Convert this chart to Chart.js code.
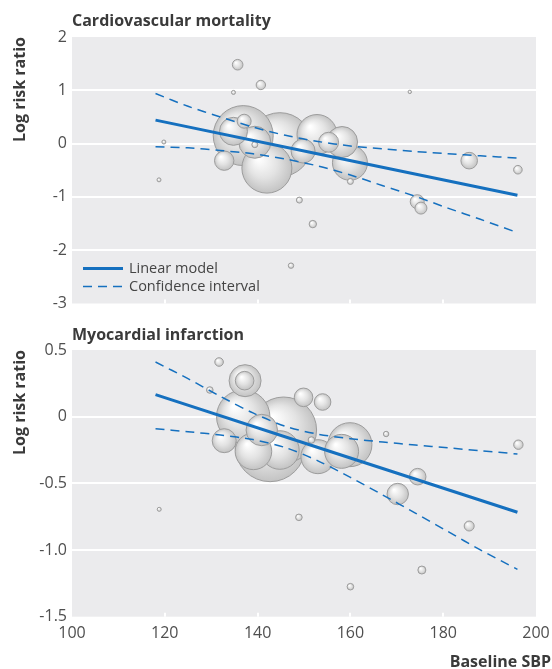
<!DOCTYPE html>
<html><head><meta charset="utf-8">
<script src="https://cdn.jsdelivr.net/npm/chart.js@4.4.1/dist/chart.umd.min.js"></script>
<style>
html,body{margin:0;padding:0;background:#fff;}
#wrap{position:relative;width:552px;height:669px;overflow:hidden;}
canvas{position:absolute;left:0;}
#c1{top:0;} #c2{top:310px;}
</style></head><body>
<div id="wrap"><canvas id="c1" width="552" height="310"></canvas><canvas id="c2" width="552" height="359"></canvas></div>
<script>
// ---- tick labels ----
const xTickLabels = ['100','120','140','160','180','200'];
const cvYTickLabels = ['2','1','0','-1','-2','-3'];
const miYTickLabels = ['0.5','0','-0.5','-1.0','-1.5'];

// ---- Cardiovascular mortality: studies ----
const cvSBP    = [136.9, 144.8, 142.0, 152.8, 159.9, 139.4, 158.2, 134.8, 149.8, 155.3, 132.8, 185.6, 137.1, 174.4, 175.2, 135.7, 140.7, 196.1, 151.9, 149.0, 160.0, 139.4, 147.2, 134.8, 119.8, 118.75, 172.8];
const cvLogRR  = [0.15, -0.02, -0.46, 0.17, -0.36, 0.025, 0.03, 0.23, -0.14, 0.025, -0.32, -0.32, 0.42, -1.09, -1.21, 1.48, 1.10, -0.49, -1.51, -1.06, -0.71, -0.02, -2.29, 0.96, 0.03, -0.68, 0.97];
const cvWeight = [30, 32, 25, 20, 17.5, 16, 15.5, 14, 12, 10, 9.7, 8.3, 7, 7, 6, 5.3, 4.7, 4.3, 3.7, 3, 3, 3, 2.7, 2, 2, 2, 1.7];

// ---- Myocardial infarction: studies ----
const miSBP    = [142.7, 145.6, 136.9, 159.9, 144.8, 139.1, 153.0, 158.1, 137.3, 140.9, 132.8, 170.2, 137.2, 149.9, 154.0, 174.5, 185.6, 196.2, 131.7, 175.4, 129.7, 151.6, 148.9, 160.0, 167.7, 118.8];
const miLogRR  = [-0.225, -0.10, 0.0, -0.21, -0.25, -0.26, -0.30, -0.26, 0.27, -0.10, -0.18, -0.58, 0.27, 0.145, 0.11, -0.45, -0.82, -0.21, 0.41, -1.15, 0.20, -0.175, -0.755, -1.275, -0.13, -0.695];
const miWeight = [35, 33, 26.7, 22, 19.3, 18.3, 17, 17, 16, 15.7, 12, 10.7, 9.3, 9.3, 8.3, 8.3, 5, 4.7, 4.3, 4, 3.3, 3.3, 3.3, 3.3, 2.7, 2];

// ---- Linear model and confidence interval ----
const fitSBP = [118, 196];
const cvFit  = [0.44, -0.97];
const miFit  = [0.165, -0.717];
const ciSBP   = [118, 125, 132, 139, 146, 153, 160, 167, 174, 181, 188, 196];
const cvUpper = [0.94, 0.70, 0.50, 0.31, 0.155, 0.04, -0.045, -0.10, -0.15, -0.19, -0.23, -0.27];
const cvLower = [-0.06, -0.08, -0.13, -0.19, -0.29, -0.42, -0.59, -0.79, -0.99, -1.21, -1.42, -1.67];
const miUpper = [0.41, 0.285, 0.152, 0.028, -0.072, -0.131, -0.165, -0.19, -0.213, -0.234, -0.255, -0.28];
const miLower = [-0.09, -0.113, -0.138, -0.172, -0.232, -0.331, -0.455, -0.588, -0.723, -0.861, -0.999, -1.145];

const BLUE = '#1570bf';
const FONT = '"Open Sans"';
const TEXT = '#3a3a3a';
const TICK = '#4f4f4f';

function labelFor(list, v) {
  const f = list.find(l => Math.abs(Number(l) - v) < 1e-9);
  return f === undefined ? '' : f;
}

function bubbleFill(ctx) {
  const chart = ctx.chart, raw = ctx.raw;
  if (!raw || !chart.scales || !chart.scales.x || !chart.scales.y) return '#dcdcdc';
  const x = chart.scales.x.getPixelForValue(raw.x);
  const y = chart.scales.y.getPixelForValue(raw.y);
  const r = raw.r;
  if (![x, y, r].every(Number.isFinite) || r <= 0) return '#dcdcdc';
  const g = chart.ctx.createRadialGradient(x - r * 0.35, y - r * 0.4, r * 0.05, x, y, r);
  g.addColorStop(0, '#ffffff');
  g.addColorStop(0.55, '#e3e3e3');
  g.addColorStop(1, '#c3c3c3');
  return g;
}

function noPad(s) {
  s.paddingTop = 0; s.paddingBottom = 0; s.paddingLeft = 0; s.paddingRight = 0;
}

function panelPlugin(cfg) {
  return {
    id: 'panel_' + cfg.id,
    beforeDraw(chart) {
      const c = chart.ctx, a = chart.chartArea;
      c.save();
      c.fillStyle = '#ebebed';
      c.fillRect(a.left, a.top, a.right - a.left, a.bottom - a.top);
      c.restore();
    },
    beforeDatasetsDraw(chart) {
      const c = chart.ctx, a = chart.chartArea, xs = chart.scales.x;
      c.save();
      c.strokeStyle = '#ffffff';
      c.lineWidth = 2;
      xTickLabels.slice(1, -1).forEach(l => {
        const px = Math.round(xs.getPixelForValue(Number(l)));
        c.beginPath(); c.moveTo(px, a.bottom - 4); c.lineTo(px, a.bottom); c.stroke();
      });
      c.restore();
    },
    afterDraw(chart) {
      const c = chart.ctx, a = chart.chartArea;
      c.save();
      c.fillStyle = TEXT;
      c.font = 'bold 16px ' + FONT;
      c.textAlign = 'left';
      c.textBaseline = 'alphabetic';
      c.fillText(cfg.title, a.left, cfg.titleBaseline);
      if (cfg.legend) {
        const lx = a.left + 11, ly1 = a.bottom - 35, ly2 = a.bottom - 17;
        c.strokeStyle = BLUE;
        c.lineWidth = 3;
        c.beginPath(); c.moveTo(lx, ly1); c.lineTo(lx + 40, ly1); c.stroke();
        c.lineWidth = 1.5;
        c.setLineDash([9, 6]);
        c.beginPath(); c.moveTo(lx, ly2); c.lineTo(lx + 42, ly2); c.stroke();
        c.setLineDash([]);
        c.fillStyle = '#444';
        c.font = '14.5px ' + FONT;
        c.textBaseline = 'middle';
        c.fillText('Linear model', lx + 46, ly1);
        c.fillText('Confidence interval', lx + 46, ly2);
      }
      if (cfg.xTitle) {
        c.fillStyle = TEXT;
        c.font = 'bold 16px ' + FONT;
        c.textAlign = 'right';
        c.textBaseline = 'alphabetic';
        c.fillText(cfg.xTitle, 551, cfg.xTitleBaseline);
      }
      c.restore();
    }
  };
}

function makePanel(cfg) {
  const bubbles = cfg.sbp.map((x, i) => ({x: x, y: cfg.logRR[i], r: cfg.weight[i]}))
    .sort((p, q) => q.r - p.r);
  const lineDs = (xs, ys, dashed) => ({
    type: 'line',
    data: xs.map((x, i) => ({x: x, y: ys[i]})),
    borderColor: BLUE,
    borderWidth: dashed ? 1.5 : 3,
    borderDash: dashed ? [9, 6] : [],
    pointRadius: 0,
    tension: 0.3,
    fill: false,
    order: 0
  });
  return new Chart(document.getElementById(cfg.id), {
    type: 'bubble',
    data: {
      datasets: [
        lineDs(fitSBP, cfg.fit, false),
        lineDs(ciSBP, cfg.upper, true),
        lineDs(ciSBP, cfg.lower, true),
        {
          type: 'bubble',
          data: bubbles,
          backgroundColor: bubbleFill,
          borderColor: '#9d9d9d',
          borderWidth: 1,
          order: 1
        }
      ]
    },
    options: {
      responsive: false,
      animation: false,
      devicePixelRatio: 1,
      events: [],
      layout: {autoPadding: false, padding: {top: cfg.padTop, right: 16, bottom: cfg.padBottom, left: 0}},
      plugins: {legend: {display: false}, tooltip: {enabled: false}, title: {display: false}},
      scales: {
        x: {
          type: 'linear', min: 100, max: 200,
          display: cfg.showX,
          afterFit: s => { s.height = cfg.xHeight; noPad(s); },
          grid: {display: false},
          border: {display: false},
          ticks: {
            stepSize: 20, padding: -1, color: TICK, maxRotation: 0,
            font: {family: FONT, size: 16},
            callback: v => labelFor(xTickLabels, v)
          }
        },
        y: {
          type: 'linear', min: cfg.yMin, max: cfg.yMax,
          afterFit: s => { s.width = 72; noPad(s); },
          grid: {
            color: ctx => (ctx.tick && (ctx.tick.value === cfg.yMin || ctx.tick.value === cfg.yMax)) ? 'rgba(0,0,0,0)' : '#ffffff',
            lineWidth: 2, drawTicks: false
          },
          border: {display: false},
          ticks: {
            stepSize: cfg.yStep, padding: 5, color: TICK,
            font: {family: FONT, size: 16},
            callback: v => labelFor(cfg.yLabels, v)
          },
          title: {
            display: true, text: 'Log risk ratio', align: 'end', color: TEXT,
            font: {family: FONT, size: 16, weight: 'bold'},
            padding: {top: 11, bottom: 0}
          }
        }
      }
    },
    plugins: [panelPlugin(cfg)]
  });
}

makePanel({
  id: 'c1', title: 'Cardiovascular mortality', titleBaseline: 26,
  sbp: cvSBP, logRR: cvLogRR, weight: cvWeight,
  fit: cvFit, upper: cvUpper, lower: cvLower,
  yMin: -3, yMax: 2, yStep: 1, yLabels: cvYTickLabels,
  padTop: 37, padBottom: 6.5, showX: false, xHeight: 0,
  legend: true
});

makePanel({
  id: 'c2', title: 'Myocardial infarction', titleBaseline: 29.5,
  sbp: miSBP, logRR: miLogRR, weight: miWeight,
  fit: miFit, upper: miUpper, lower: miLower,
  yMin: -1.5, yMax: 0.5, yStep: 0.5, yLabels: miYTickLabels,
  padTop: 40, padBottom: 0, showX: true, xHeight: 52.3,
  legend: false, xTitle: 'Baseline SBP', xTitleBaseline: 357
});
</script>
</body></html>
